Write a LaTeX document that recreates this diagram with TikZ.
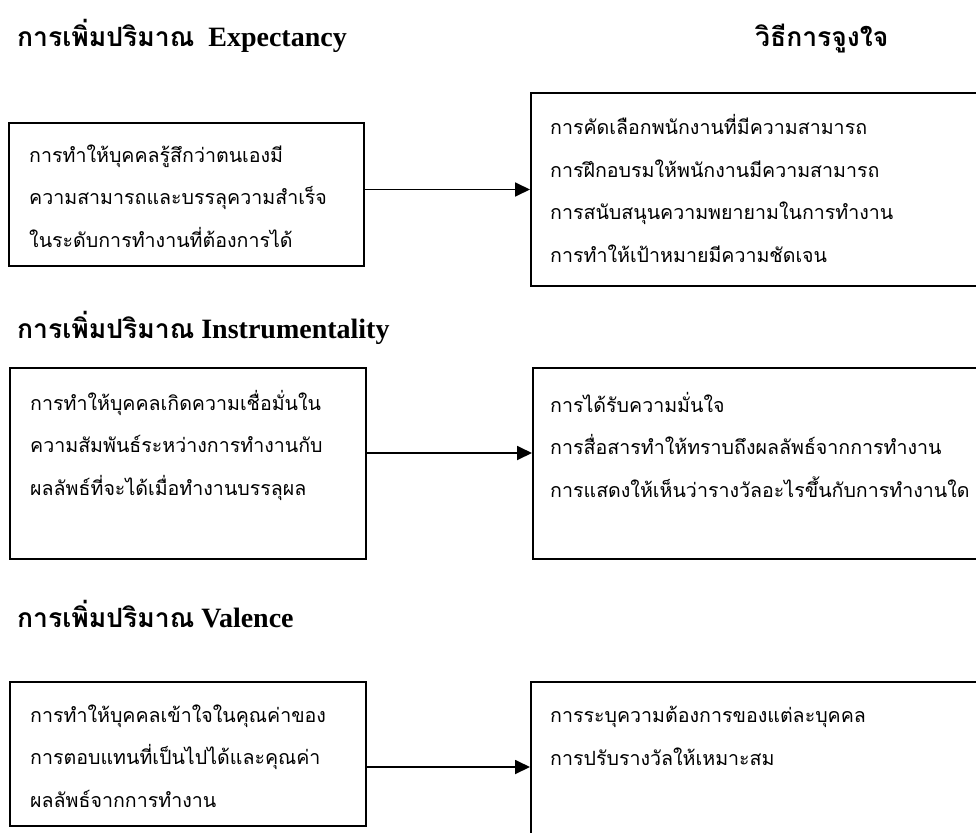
\documentclass[tikz,border=0pt]{standalone}
\usepackage{fontspec}
\setmainfont{Liberation Serif}
\newfontfamily\thaifont[Script=Thai]{Loma}
\newcommand{\thaihead}{\thaifont\fontsize{26.5}{32}\selectfont}
\usetikzlibrary{arrows.meta}
\tikzset{
  boxnode/.style={draw, line width=2pt, rectangle, inner sep=0pt, anchor=north west},
  bodytxt/.style={anchor=base west, inner sep=0pt, align=left, font=\thaifont\fontsize{19.6}{42.5}\selectfont},
  headtxt/.style={anchor=base west, inner sep=0pt, font=\fontsize{28}{32}\selectfont\bfseries},
  arr/.style={line width=1.8pt, -{Triangle[length=15pt,width=14pt]}},
}
\begin{document}
\begin{tikzpicture}[x=1pt,y=-1pt]
\useasboundingbox (0,0) rectangle (976,832);
\clip (0,0) rectangle (976,832);
% headings
\node[headtxt] (h1) at (17,47) {{\thaihead การเพิ่มปริมาณ}\ \ Expectancy};
\node[headtxt] (h0) at (755,47) {\thaihead วิธีการจูงใจ};
\node[headtxt] (h2) at (17,338) {{\thaihead การเพิ่มปริมาณ} Instrumentality};
\node[headtxt] (h3) at (17,627) {{\thaihead การเพิ่มปริมาณ} Valence};
% boxes
\node[boxnode, minimum width=355pt, minimum height=143pt] (b1) at (8,122) {};
\node[boxnode, minimum width=470pt, minimum height=193pt] (r1) at (530,92) {};
\node[boxnode, minimum width=356pt, minimum height=191pt] (b2) at (9,367) {};
\node[boxnode, minimum width=468pt, minimum height=191pt] (r2) at (532,367) {};
\node[boxnode, minimum width=356pt, minimum height=144pt] (b3) at (9,681) {};
\node[boxnode, minimum width=470pt, minimum height=200pt] (r3) at (530,681) {};
% texts (anchored at the baseline of their last line)
\node[bodytxt] (t1) at (29,247) {การทำให้บุคคลรู้สึกว่าตนเองมี\\ความสามารถและบรรลุความสำเร็จ\\ในระดับการทำงานที่ต้องการได้};
\node[bodytxt] (s1) at (550,262) {การคัดเลือกพนักงานที่มีความสามารถ\\การฝึกอบรมให้พนักงานมีความสามารถ\\การสนับสนุนความพยายามในการทำงาน\\การทำให้เป้าหมายมีความชัดเจน};
\node[bodytxt] (t2) at (30,495) {การทำให้บุคคลเกิดความเชื่อมั่นใน\\ความสัมพันธ์ระหว่างการทำงานกับ\\ผลลัพธ์ที่จะได้เมื่อทำงานบรรลุผล};
\node[bodytxt] (s2) at (550,497) {การได้รับความมั่นใจ\\การสื่อสารทำให้ทราบถึงผลลัพธ์จากการทำงาน\\การแสดงให้เห็นว่ารางวัลอะไรขึ้นกับการทำงานใด};
\node[bodytxt] (t3) at (30,807) {การทำให้บุคคลเข้าใจในคุณค่าของ\\การตอบแทนที่เป็นไปได้และคุณค่า\\ผลลัพธ์จากการทำงาน};
\node[bodytxt] (s3) at (550,765) {การระบุความต้องการของแต่ละบุคคล\\การปรับรางวัลให้เหมาะสม};
% arrows
\draw[arr] (r1.west -| b1.east) -- (r1.west);
\draw[arr] ([yshift=10.5pt]b2.east) -- ([yshift=10.5pt]b2.east -| r2.west);
\draw[arr] ([yshift=-13pt]b3.east) -- ([yshift=-13pt]b3.east -| r3.west);
\end{tikzpicture}
\end{document}
